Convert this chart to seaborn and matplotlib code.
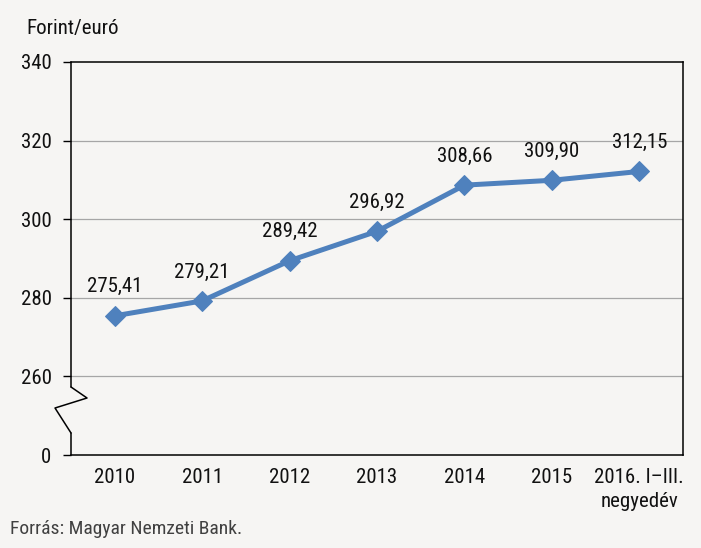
import matplotlib
matplotlib.use("Agg")
import matplotlib.pyplot as plt
import numpy as np
import pandas as pd
import seaborn as sns

# Adatok
years = ["2010", "2011", "2012", "2013", "2014", "2015", "2016. I–III.\nnegyedév"]
rates = [275.41, 279.21, 289.42, 296.92, 308.66, 309.90, 312.15]
y_ticks = [240, 260, 280, 300, 320, 340]
y_tick_labels = ["0", "260", "280", "300", "320", "340"]

sns.set_theme(style="white")
plt.rcParams["font.family"] = ["Liberation Sans Narrow", "Arial Narrow", "Roboto Condensed",
                               "Archivo Narrow", "PT Sans Narrow", "Liberation Sans", "DejaVu Sans"]

bg = "#f6f5f3"
line_color = "#4f81bd"
txt = "#111111"

fig = plt.figure(figsize=(7.01, 5.48), dpi=100, facecolor=bg)
ax = fig.add_axes([0.1013, 0.1697, 0.8730, 0.7172])
ax.set_facecolor(bg)

df = pd.DataFrame({"pos": np.arange(len(years)), "rate": rates})
sns.lineplot(data=df, x="pos", y="rate", ax=ax, color=line_color, lw=3.6,
             marker="D", markersize=10.5, markeredgecolor=line_color)

for x, v in zip(df["pos"], df["rate"]):
    ax.annotate(f"{v:.2f}".replace(".", ","), (x, v), xytext=(0, 14),
                textcoords="offset points", ha="center", va="bottom",
                fontsize=15, color=txt)

# tengelyek - 240 helyett "0" (törött tengely)
ax.set_xlim(-0.5, len(years) - 0.5)
ax.set_ylim(240, 340)
ax.set_yticks(y_ticks)
ax.set_yticklabels(y_tick_labels)
for gy in y_ticks[1:-1]:
    ax.axhline(gy, color="#a6a6a6", lw=0.9, zorder=0)

ax.set_xticks(df["pos"])
ax.set_xticklabels(years, linespacing=1.35)
ax.set_xticks(np.arange(-0.5, len(years)), minor=True)
ax.tick_params(axis="x", which="major", length=0, pad=9, labelsize=15, colors=txt)
ax.tick_params(axis="x", which="minor", length=6, width=1, color="black", direction="out")
ax.tick_params(axis="y", length=6, width=1, color="black", direction="out",
               left=True, pad=8, labelsize=15, labelcolor=txt)
ax.set_xlabel("")
ax.set_ylabel("")

for side in ["top", "right", "bottom"]:
    ax.spines[side].set_color("black")
    ax.spines[side].set_linewidth(1.1)
ax.spines["left"].set_visible(False)

# bal tengely a töréssel (axes koordinátákban)
tr = ax.transAxes
h = 393.0
ax.plot([0, 0], [0, 22 / h], color="black", lw=1.1, transform=tr, clip_on=False)
ax.plot([0, -16 / 612, 16 / 612, 0], [22 / h, 47 / h, 57 / h, 68 / h],
        color="black", lw=1.1, transform=tr, clip_on=False)
ax.plot([0, 0], [68 / h, 1], color="black", lw=1.1, transform=tr, clip_on=False)

fig.text(0.037, 0.948, "Forint/euró", fontsize=15, color=txt, ha="left", va="center")
fig.text(0.014, 0.018, "Forrás: Magyar Nemzeti Bank.", fontsize=14, color="#404040",
         ha="left", va="bottom")

fig.savefig("out.png", dpi=100, facecolor=bg)
